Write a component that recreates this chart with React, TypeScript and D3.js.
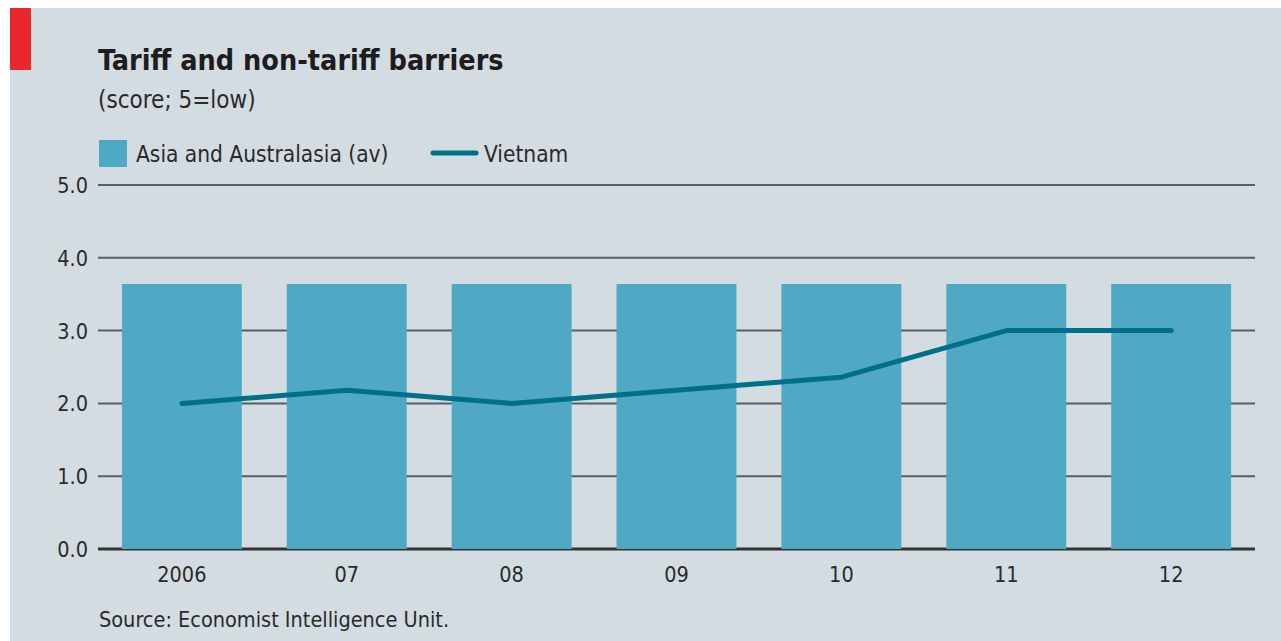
import React, { useMemo } from 'react';
import * as d3 from 'd3';

const years = ['2006', '07', '08', '09', '10', '11', '12'];
const asiaAverage = [3.64, 3.64, 3.64, 3.64, 3.64, 3.64, 3.64];
const vietnam = [2.0, 2.18, 2.0, 2.18, 2.36, 3.0, 3.0];
const yTicks = [0, 1, 2, 3, 4, 5];

const WIDTH = 1281;
const HEIGHT = 641;
const FONT = '"DejaVu Sans Condensed", "Liberation Sans Narrow", sans-serif';

const App = () => {
  const plot = { left: 98, right: 1255, top: 185, bottom: 549 };

  const { xScale, yScale, linePath } = useMemo(() => {
    const xScale = d3.scaleBand<string>()
      .domain(years)
      .range([plot.left, plot.right])
      .paddingInner(0.273)
      .paddingOuter(0.145);

    const yScale = d3.scaleLinear()
      .domain([0, 5])
      .range([plot.bottom, plot.top]);

    const line = d3.line<number>()
      .x((_, i) => (xScale(years[i]) as number) + xScale.bandwidth() / 2)
      .y(d => yScale(d));

    return { xScale, yScale, linePath: line(vietnam) };
  }, []);

  return (
    <svg
      width={WIDTH}
      height={HEIGHT}
      viewBox={`0 0 ${WIDTH} ${HEIGHT}`}
      style={{ position: 'absolute', left: 0, top: 0, fontFamily: FONT }}
    >
      <rect x={0} y={0} width={WIDTH} height={HEIGHT} fill="#ffffff" />
      <rect x={10} y={8} width={WIDTH - 10} height={HEIGHT - 8} fill="#d3dce1" />
      <rect x={10} y={8} width={21} height={62} fill="#e8282d" />

      {/* Title block */}
      <text x={98} y={70} fill="#1d1d1d" style={{ fontSize: '28.5px', fontWeight: 'bold' }}>
        Tariff and non-tariff barriers
      </text>
      <text x={98} y={108} fill="#2a2a2a" style={{ fontSize: '24px' }}>
        (score; 5=low)
      </text>

      {/* Legend */}
      <rect x={99} y={140} width={28} height={27} fill="#4fa9c5" />
      <text x={136} y={162} fill="#2a2a2a" style={{ fontSize: '22.5px' }}>
        Asia and Australasia (av)
      </text>
      <line x1={433} y1={153} x2={476} y2={153} stroke="#00708a" strokeWidth={5} strokeLinecap="round" />
      <text x={484} y={162} fill="#2a2a2a" style={{ fontSize: '22.5px' }}>
        Vietnam
      </text>

      {/* Grid lines */}
      {yTicks.map(t => (
        <line
          key={`g-${t}`}
          x1={plot.left}
          x2={plot.right}
          y1={yScale(t)}
          y2={yScale(t)}
          stroke={t === 0 ? '#333333' : '#5a5e60'}
          strokeWidth={t === 0 ? 3 : 2}
        />
      ))}

      {/* Y labels */}
      {yTicks.map(t => (
        <text
          key={`yl-${t}`}
          x={88}
          y={yScale(t) + 8}
          textAnchor="end"
          fill="#2a2a2a"
          style={{ fontSize: '21.5px' }}
        >
          {t.toFixed(1)}
        </text>
      ))}

      {/* Bars */}
      {years.map((y, i) => (
        <rect
          key={`b-${y}`}
          x={xScale(y)}
          y={yScale(asiaAverage[i])}
          width={xScale.bandwidth()}
          height={yScale(0) - yScale(asiaAverage[i])}
          fill="#4fa9c5"
        />
      ))}

      {/* Vietnam line */}
      <path
        d={linePath ?? ''}
        fill="none"
        stroke="#00708a"
        strokeWidth={5}
        strokeLinecap="round"
        strokeLinejoin="round"
      />

      {/* X labels */}
      {years.map(y => (
        <text
          key={`xl-${y}`}
          x={(xScale(y) as number) + xScale.bandwidth() / 2}
          y={582}
          textAnchor="middle"
          fill="#2a2a2a"
          style={{ fontSize: '21.5px' }}
        >
          {y}
        </text>
      ))}

      <text x={99} y={627} fill="#2a2a2a" style={{ fontSize: '21.5px' }}>
        Source: Economist Intelligence Unit.
      </text>
    </svg>
  );
};

export default App;
